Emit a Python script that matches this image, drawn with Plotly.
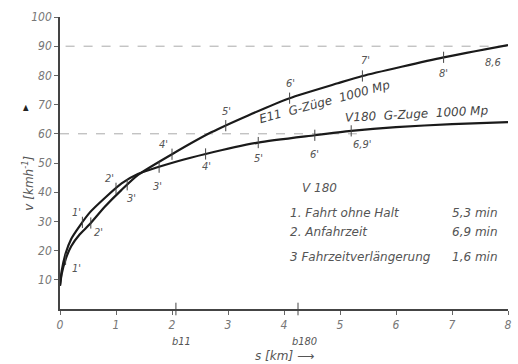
import numpy as np
import plotly.graph_objects as go

# ---- data ----
e11_s = [0, 0.03, 0.1, 0.2, 0.35, 0.53, 0.8, 1.1, 1.4, 2.0, 2.7, 3.36, 4.1, 4.96, 5.4, 6.85, 8.0]
e11_v = [8, 12, 17, 21.5, 25.5, 29, 35, 40.8, 46, 53, 60.5, 66.3, 72.2, 77.3, 79.8, 86.2, 90.4]
v180_s = [0, 0.03, 0.1, 0.2, 0.35, 0.53, 0.8, 1.1, 1.4, 2.1, 2.6, 3.54, 4.55, 5.2, 6.0, 7.0, 8.0]
v180_v = [8, 13, 19, 24, 28.4, 33, 38, 43, 46.3, 50.6, 53.1, 57, 59.5, 61, 62.3, 63.3, 64]

e11_marks_s = [0.1, 0.55, 1.2, 2.0, 2.96, 4.1, 5.4, 6.85, 8.0]
e11_marks_lbl = ["1'", "2'", "3'", "4'", "5'", "6'", "7'", "8'", "8,6"]
v180_marks_s = [0.4, 1.0, 1.77, 2.6, 3.54, 4.55, 5.2]
v180_marks_lbl = ["1'", "2'", "3'", "4'", "5'", "6'", "6,9'"]

ref_levels = [60, 90]
ref_from = [0, 0.1]
ref_to = [5.3, 8]

b_pos = [2.07, 4.25]
b_lbl = ["b11", "b180"]

x_ticks = [0, 1, 2, 3, 4, 5, 6, 7, 8]
y_ticks = [10, 20, 30, 40, 50, 60, 70, 80, 90, 100]

legend_title = "V 180"
legend_items = ["1. Fahrt ohne Halt", "2. Anfahrzeit", "3 Fahrzeitverlängerung"]
legend_values = ["5,3 min", "6,9 min", "1,6 min"]

# ---- styles / offsets ----
FONT = "DejaVu Sans Condensed, Liberation Sans Narrow, DejaVu Sans"
FONT_W = "DejaVu Sans, Liberation Sans, Arial"
TXT = "#555"
e11_off = [(11, -9), (8, -9), (4, -14), (-9, 10), (1, 14), (1, 15), (3, 15), (0, -16), (-15, -17)]
v180_off = [(-6, 10), (-7, 10), (-2, -19), (1, -13), (0, -16), (0, -19), (11, -14)]

fig = go.Figure()

for lv, a, b in zip(ref_levels, ref_from, ref_to):
    fig.add_trace(go.Scatter(x=[a, b], y=[lv, lv], mode="lines",
                             line=dict(color="#aaa", width=1, dash="dash"),
                             hoverinfo="skip", showlegend=False))

fig.add_trace(go.Scatter(x=e11_s, y=e11_v, mode="lines",
                         line=dict(color="#1a1a1a", width=2.2, shape="spline", smoothing=0.6),
                         showlegend=False, name="E11"))
fig.add_trace(go.Scatter(x=v180_s, y=v180_v, mode="lines",
                         line=dict(color="#1a1a1a", width=2.2, shape="spline", smoothing=0.6),
                         showlegend=False, name="V180"))

e11_mv = np.interp(e11_marks_s, e11_s, e11_v)
v180_mv = np.interp(v180_marks_s, v180_s, v180_v)
fig.add_trace(go.Scatter(x=e11_marks_s[:-1], y=e11_mv[:-1], mode="markers",
                         marker=dict(symbol="line-ns", size=8, line=dict(color="#444", width=1)),
                         showlegend=False, hoverinfo="skip"))
fig.add_trace(go.Scatter(x=v180_marks_s, y=v180_mv, mode="markers",
                         marker=dict(symbol="line-ns", size=8, line=dict(color="#444", width=1)),
                         showlegend=False, hoverinfo="skip"))
fig.add_trace(go.Scatter(x=b_pos, y=[0] * len(b_pos), mode="markers", cliponaxis=False,
                         marker=dict(symbol="line-ns", size=9, line=dict(color="#444", width=1)),
                         showlegend=False, hoverinfo="skip"))

fnt = dict(family=FONT, size=11, color=TXT, style="italic")
fntw = dict(family=FONT_W, size=12, color=TXT, style="italic")
for s, v, t, (dx, dy) in zip(e11_marks_s, e11_mv, e11_marks_lbl, e11_off):
    fig.add_annotation(x=s, y=v, text=t, showarrow=False, xshift=dx, yshift=dy, font=fnt)
for s, v, t, (dx, dy) in zip(v180_marks_s, v180_mv, v180_marks_lbl, v180_off):
    fig.add_annotation(x=s, y=v, text=t, showarrow=False, xshift=dx, yshift=dy, font=fnt)

for p, t in zip(b_pos, b_lbl):
    fig.add_annotation(x=p, y=-0.113, yref="paper", yanchor="middle", text=t, showarrow=False,
                       xshift=6, font=fnt)

# curve names
fig.add_annotation(x=4.72, y=71.0, text="E11  G-Züge  1000 Mp", showarrow=False, textangle=-15,
                   font=dict(family=FONT_W, size=12, color="#444", style="italic"))
fig.add_annotation(x=6.38, y=66.9, text="V180  G-Zuge  1000 Mp", showarrow=False, textangle=-3,
                   font=dict(family=FONT_W, size=12, color="#444", style="italic"))

# legend block
fig.add_annotation(x=4.64, y=41.4, text=legend_title, showarrow=False, font=fntw)
for i, (it, val) in enumerate(zip(legend_items, legend_values)):
    yy = [32.9, 26.4, 17.8][i]
    fig.add_annotation(x=4.07, y=yy, text=it, showarrow=False, xanchor="left", font=fntw)
    fig.add_annotation(x=6.96, y=yy, text=val, showarrow=False, xanchor="left", font=fntw)

# axis titles
fig.add_annotation(x=-0.071, y=0.43, xref="paper", yref="paper", yanchor="middle", xanchor="center",
                   text="v [kmh<sup>-1</sup>]", textangle=-90, showarrow=False,
                   font=dict(family=FONT_W, size=12, color=TXT, style="italic"))
fig.add_annotation(x=-0.077, y=0.69, xref="paper", yref="paper", yanchor="middle", xanchor="center",
                   text="▲", showarrow=False, font=dict(family=FONT, size=8, color="#222"))
fig.add_annotation(x=0.5, y=-0.162, xref="paper", yref="paper", yanchor="middle",
                   text="s [km] ⟶", showarrow=False,
                   font=dict(family=FONT_W, size=12, color=TXT, style="italic"))

fig.update_xaxes(range=[0, 8], tickvals=x_ticks, ticktext=[str(t) for t in x_ticks],
                 showline=True, linecolor="#444", linewidth=1.5, ticks="outside", ticklen=4,
                 tickcolor="#666", showgrid=False, zeroline=False,
                 tickfont=dict(family=FONT, size=12, color="#777", style="italic"))
fig.update_yaxes(range=[0, 100], tickvals=y_ticks, ticktext=[str(t) for t in y_ticks],
                 showline=True, linecolor="#444", linewidth=1.5, ticks="outside", ticklen=4,
                 tickcolor="#666", showgrid=False, zeroline=False,
                 tickfont=dict(family=FONT, size=12, color="#777", style="italic"))

fig.update_layout(width=518, height=364, margin=dict(l=60, r=6, t=17, b=55),
                  plot_bgcolor="white", paper_bgcolor="white", showlegend=False)

fig.write_html("out.html", config={"displayModeBar": False},
               post_script="document.body.style.margin='0';document.body.style.overflow='hidden';")
